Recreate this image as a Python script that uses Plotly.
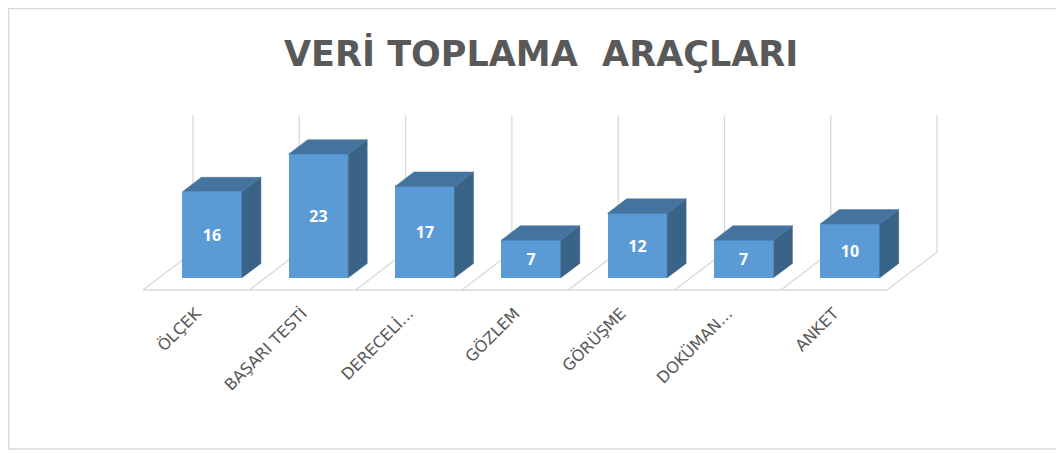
import plotly.graph_objects as go

# ---- data ----
categories = ["ÖLÇEK", "BAŞARI TESTİ", "DERECELİ...", "GÖZLEM", "GÖRÜŞME", "DOKÜMAN...", "ANKET"]
values = [16, 23, 17, 7, 12, 7, 10]
title_text = "VERİ TOPLAMA  ARAÇLARI"

# ---- geometry / style ----
OFF = 8                              # page body margin
W, H = 1064 - OFF, 453 - OFF
PX_CAT, PX_VAL = 106.3, 5.38         # pixels per category, per value unit
X0PX, Y0PX = 143 - OFF, 290 - OFF    # floor front-left corner (figure pixels)
DX = 50 / PX_CAT                     # depth offset (category units) for full depth
DY = 38 / PX_VAL                     # depth offset (value units) for full depth
D0, D1 = 0.32, 0.70                  # bar depth span
BAR_W = 0.56
WALL_TOP = 25.4
GRID = "#D9D9D9"
FRONT, TOP, SIDE = "#5B9BD5", "#44739F", "#3A6388"
TXT = "#595959"

xr = [-X0PX / PX_CAT, (W - X0PX) / PX_CAT]
yr = [-(H - Y0PX) / PX_VAL, Y0PX / PX_VAL]

fig = go.Figure()
n = len(categories)

# floor and back-wall lines (drawn below all traces)
shapes = [dict(type="line", xref="x", yref="y", x0=0, x1=n, y0=0, y1=0,
               line=dict(color=GRID, width=1.3), layer="below")]
for k in range(n + 1):
    shapes.append(dict(type="line", xref="x", yref="y", x0=k, x1=k + DX, y0=0, y1=DY,
                       line=dict(color=GRID, width=1.3), layer="below"))
    shapes.append(dict(type="line", xref="x", yref="y", x0=k + DX, x1=k + DX, y0=DY,
                       y1=DY + WALL_TOP, line=dict(color=GRID, width=1.3), layer="below"))
shapes.append(dict(type="rect", xref="paper", yref="paper", x0=0.6 / W, x1=(1061 - OFF) / W,
                   y0=1 - (449 - OFF) / H, y1=1 - 0.6 / H, line=dict(color=GRID, width=1.5)))

ddx = (D1 - D0) * DX
for i, v in enumerate(values):
    c = i + 0.5
    xl = c - BAR_W / 2 + D0 * DX
    xrr = c + BAR_W / 2 + D0 * DX
    b0 = D0 * DY
    b1 = D1 * DY
    # side face
    fig.add_trace(go.Scatter(
        x=[xrr, xrr + ddx, xrr + ddx, xrr, xrr],
        y=[b0, b1, b1 + v, b0 + v, b0],
        mode="lines", fill="toself", fillcolor=SIDE, line=dict(color=SIDE, width=0.5),
        hoverinfo="skip", showlegend=False))
    # top face
    fig.add_trace(go.Scatter(
        x=[xl, xrr, xrr + ddx, xl + ddx, xl],
        y=[b0 + v, b0 + v, b1 + v, b1 + v, b0 + v],
        mode="lines", fill="toself", fillcolor=TOP, line=dict(color=TOP, width=0.5),
        hoverinfo="skip", showlegend=False))

# front faces
fig.add_trace(go.Bar(
    x=[i + 0.5 + D0 * DX for i in range(n)], y=values, base=[D0 * DY] * n,
    width=BAR_W, marker=dict(color=FRONT, line=dict(width=0)),
    text=[str(v) for v in values], textposition="inside", insidetextanchor="middle",
    textfont=dict(family="Open Sans", size=16, color="white", weight="bold"),
    textangle=0, hoverinfo="skip", showlegend=False))

# invisible trace for the label axis
fig.add_trace(go.Scatter(x=[i + 0.5 for i in range(n)], y=[0] * n, xaxis="x2",
                         mode="markers", marker=dict(opacity=0), hoverinfo="skip",
                         showlegend=False))

fig.update_layout(
    width=W, height=H, margin=dict(l=0, r=0, t=0, b=0),
    paper_bgcolor="white", plot_bgcolor="white",
    xaxis=dict(range=xr, visible=False, fixedrange=True),
    yaxis=dict(range=yr, visible=False, fixedrange=True),
    xaxis2=dict(range=xr, overlaying="x", anchor="free", position=1 - (300 - OFF) / H,
                side="bottom", tickmode="array", tickvals=[i + 0.5 for i in range(n)],
                ticktext=categories, tickangle=-45, showgrid=False, zeroline=False,
                showline=False, ticks="", automargin=False, fixedrange=True,
                tickfont=dict(family="DejaVu Sans", size=16, color=TXT)),
    bargap=0,
    annotations=[dict(text=title_text, x=(541 - OFF) / W, y=1 - (53.5 - OFF) / H,
                      xref="paper", yref="paper",
                      showarrow=False, xanchor="center", yanchor="middle",
                      font=dict(family="DejaVu Sans", size=35, color=TXT, weight="bold"))],
    shapes=shapes,
)

fig.write_html("out.html")
